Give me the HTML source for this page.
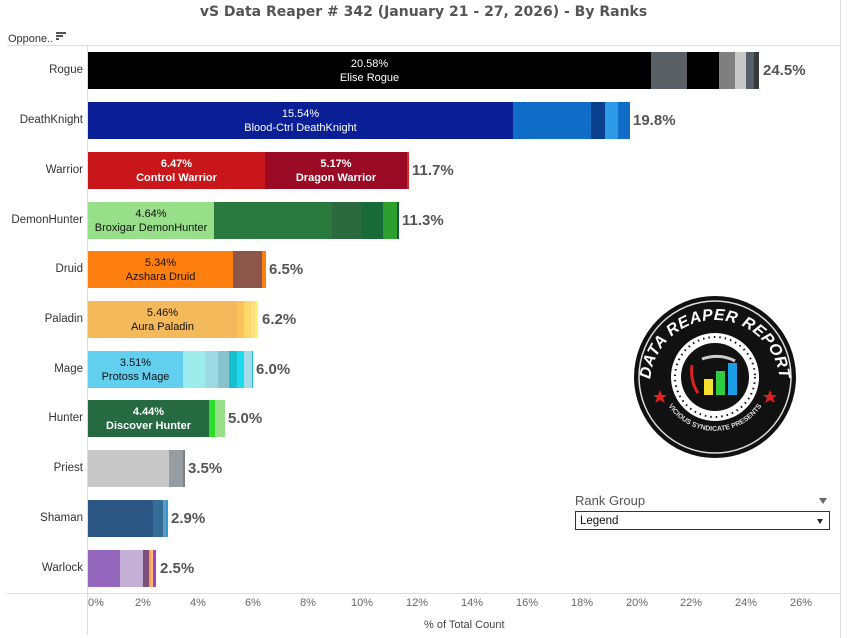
<!DOCTYPE html>
<html><head><meta charset="utf-8"><style>
body{margin:0;width:847px;height:638px;background:#fff;position:relative;font-family:"Liberation Sans",Arial,sans-serif;overflow:hidden}
.a{position:absolute}
.cat{position:absolute;right:764px;font-size:11.5px;color:#333;text-align:right}
.bar{position:absolute;height:37px;display:flex}
.bar div{height:100%;position:relative}
.lab{position:absolute;left:0;right:0;top:5px;text-align:center;font-size:11px;line-height:14px}
.val{position:absolute;font-size:15px;font-weight:bold;color:#555}
.tick{position:absolute;top:597px;font-size:11px;color:#666;width:40px;text-align:center}
</style></head><body>
<div class="a" style="left:0;width:847px;top:4px;text-align:center;font-size:14px;font-weight:bold;color:#555;font-family:'DejaVu Sans',sans-serif">vS Data Reaper # 342 (January 21 - 27, 2026) - By Ranks</div>
<div class="a" style="left:8px;top:33px;font-size:11px;color:#333">Oppone..</div>
<div class="a" style="left:56px;top:32px;width:10px;height:2px;background:#555"></div>
<div class="a" style="left:56px;top:35px;width:7px;height:2px;background:#555"></div>
<div class="a" style="left:56px;top:38px;width:3px;height:2px;background:#555"></div>
<div class="a" style="left:7px;top:45px;width:834px;height:1px;background:#ddd"></div>
<div class="a" style="left:87px;top:45px;width:1px;height:590px;background:#ddd"></div>
<div class="a" style="left:840px;top:0;width:1px;height:638px;background:#ddd"></div>
<div class="a" style="left:7px;top:593px;width:834px;height:1px;background:#ddd"></div>

<div class="cat" style="top:64px">Rogue</div>
<div class="cat" style="top:114px">DeathKnight</div>
<div class="cat" style="top:164px">Warrior</div>
<div class="cat" style="top:214px">DemonHunter</div>
<div class="cat" style="top:263px">Druid</div>
<div class="cat" style="top:313px">Paladin</div>
<div class="cat" style="top:363px">Mage</div>
<div class="cat" style="top:412px">Hunter</div>
<div class="cat" style="top:462px">Priest</div>
<div class="cat" style="top:512px">Shaman</div>
<div class="cat" style="top:562px">Warlock</div>

<div class="bar" style="left:88px;top:52px"><div style="width:563px;background:#000;color:#fff"><div class="lab">20.58%<br>Elise Rogue</div></div><div style="width:36px;background:#5a5f66"></div><div style="width:32px;background:#000"></div><div style="width:16px;background:#7f7f7f"></div><div style="width:11px;background:#c8c8c8"></div><div style="width:8px;background:#56606a"></div><div style="width:5px;background:#3a3a3a"></div></div>
<div class="val" style="left:763px;top:62px">24.5%</div>

<div class="bar" style="left:88px;top:102px"><div style="width:425px;background:#0a1e96;color:#fff"><div class="lab">15.54%<br>Blood-Ctrl DeathKnight</div></div><div style="width:78px;background:#0f6dc8"></div><div style="width:14px;background:#0a3f8e"></div><div style="width:13px;background:#2d9ae8"></div><div style="width:12px;background:#0f6dc8"></div></div>
<div class="val" style="left:633px;top:112px">19.8%</div>

<div class="bar" style="left:88px;top:152px"><div style="width:177px;background:#c8161b;color:#fff"><div class="lab" style="font-weight:bold">6.47%<br>Control Warrior</div></div><div style="width:142px;background:#9a0a24;color:#fff"><div class="lab" style="font-weight:bold">5.17%<br>Dragon Warrior</div></div><div style="width:2px;background:#d42a2a"></div></div>
<div class="val" style="left:412px;top:162px">11.7%</div>

<div class="bar" style="left:88px;top:202px"><div style="width:126px;background:#98df8a;color:#111"><div class="lab">4.64%<br>Broxigar DemonHunter</div></div><div style="width:118px;background:#2a7a40"></div><div style="width:29px;background:#2a6a3e"></div><div style="width:22px;background:#186b38"></div><div style="width:14px;background:#2ca02c"></div><div style="width:2px;background:#1a5a30"></div></div>
<div class="val" style="left:402px;top:212px">11.3%</div>

<div class="bar" style="left:88px;top:251px"><div style="width:145px;background:#ff7f0e;color:#111"><div class="lab">5.34%<br>Azshara Druid</div></div><div style="width:29px;background:#8c564b"></div><div style="width:4px;background:#ff7f0e"></div></div>
<div class="val" style="left:269px;top:261px">6.5%</div>

<div class="bar" style="left:88px;top:301px"><div style="width:149px;background:#f4b95a;color:#111"><div class="lab">5.46%<br>Aura Paladin</div></div><div style="width:7px;background:#f9c35a"></div><div style="width:7px;background:#fdd768"></div><div style="width:4px;background:#ffe080"></div><div style="width:3px;background:#ffef70"></div></div>
<div class="val" style="left:262px;top:311px">6.2%</div>

<div class="bar" style="left:88px;top:351px"><div style="width:95px;background:#62cfee;color:#111"><div class="lab">3.51%<br>Protoss Mage</div></div><div style="width:22px;background:#9cecec"></div><div style="width:13px;background:#a0d9e6"></div><div style="width:11px;background:#87c3cc"></div><div style="width:8px;background:#17becf"></div><div style="width:7px;background:#1bdbec"></div><div style="width:8px;background:#a6dce8"></div><div style="width:1px;background:#17becf"></div></div>
<div class="val" style="left:256px;top:361px">6.0%</div>

<div class="bar" style="left:88px;top:400px"><div style="width:121px;background:#256a41;color:#fff"><div class="lab" style="font-weight:bold">4.44%<br>Discover Hunter</div></div><div style="width:6px;background:#2bdd2b"></div><div style="width:10px;background:#98df8a"></div></div>
<div class="val" style="left:228px;top:410px">5.0%</div>

<div class="bar" style="left:88px;top:450px"><div style="width:81px;background:#c8c8c8"></div><div style="width:14px;background:#969c9f"></div><div style="width:2px;background:#7f7f7f"></div></div>
<div class="val" style="left:188px;top:460px">3.5%</div>

<div class="bar" style="left:88px;top:500px"><div style="width:65px;background:#2c5784"></div><div style="width:10px;background:#336e98"></div><div style="width:3px;background:#6a98b8"></div><div style="width:2px;background:#2a9ad8"></div></div>
<div class="val" style="left:171px;top:510px">2.9%</div>

<div class="bar" style="left:88px;top:550px"><div style="width:32px;background:#9467bd"></div><div style="width:23px;background:#c5b0d5"></div><div style="width:6px;background:#7b4f7a"></div><div style="width:2px;background:#ff9e4a"></div><div style="width:2px;background:#ffbb78"></div><div style="width:3px;background:#a040d0"></div></div>
<div class="val" style="left:160px;top:560px">2.5%</div>

<div class="tick" style="left:76px">0%</div>
<div class="tick" style="left:123px">2%</div>
<div class="tick" style="left:178px">4%</div>
<div class="tick" style="left:233px">6%</div>
<div class="tick" style="left:288px">8%</div>
<div class="tick" style="left:342px">10%</div>
<div class="tick" style="left:397px">12%</div>
<div class="tick" style="left:452px">14%</div>
<div class="tick" style="left:507px">16%</div>
<div class="tick" style="left:562px">18%</div>
<div class="tick" style="left:617px">20%</div>
<div class="tick" style="left:671px">22%</div>
<div class="tick" style="left:726px">24%</div>
<div class="tick" style="left:781px">26%</div>
<div class="a" style="left:424px;top:619px;font-size:11px;color:#444">% of Total Count</div>

<div class="a" style="left:575px;top:493px;font-size:13px;color:#555">Rank Group</div>
<div class="a" style="left:819px;top:498px;width:0;height:0;border-left:4px solid transparent;border-right:4px solid transparent;border-top:6px solid #666"></div>
<div class="a" style="left:575px;top:511px;width:253px;height:17px;border:1px solid #333;font-size:11.5px;color:#111;line-height:19px;box-sizing:content-box"><span style="margin-left:4px">Legend</span>
<div class="a" style="right:6px;top:7px;width:0;height:0;border-left:3.5px solid transparent;border-right:3.5px solid transparent;border-top:5px solid #222"></div></div>

<svg class="a" style="left:630px;top:293px" width="170" height="170" viewBox="0 0 170 170">
<defs><path id="arcT" d="M20,92 A65,65 0 0,1 150,92"/><path id="arcB" d="M32,100 A56,56 0 0,0 138,100"/></defs>
<circle cx="85" cy="84" r="81" fill="#111"/>
<circle cx="85" cy="84" r="76" fill="none" stroke="#ddd" stroke-width="1.5"/>
<circle cx="85" cy="84" r="44" fill="#fff"/>
<circle cx="85" cy="84" r="40" fill="none" stroke="#111" stroke-width="2" stroke-dasharray="1.5 4"/>
<circle cx="85" cy="84" r="34" fill="#111"/>
<text font-family="Liberation Sans,sans-serif" font-weight="bold" font-style="italic" font-size="16" fill="#fff" letter-spacing="0.5"><textPath href="#arcT" startOffset="50%" text-anchor="middle">DATA REAPER REPORT</textPath></text>
<text font-family="Liberation Sans,sans-serif" font-weight="bold" font-size="7" fill="#ddd"><textPath href="#arcB" startOffset="50%" text-anchor="middle">VICIOUS SYNDICATE PRESENTS</textPath></text>
<polygon points="30,97 32,102 37,102 33,105 35,110 30,107 25,110 27,105 23,102 28,102" fill="#e02020"/>
<polygon points="140,97 142,102 147,102 143,105 145,110 140,107 135,110 137,105 133,102 138,102" fill="#e02020"/>
<rect x="74" y="86" width="9" height="16" fill="#f7e02a"/>
<rect x="86" y="78" width="9" height="24" fill="#2ecc40"/>
<rect x="98" y="70" width="9" height="32" fill="#1a9ee8"/>
<path d="M62,72 Q60,88 68,100" stroke="#e02020" stroke-width="3" fill="none"/>
<path d="M72,66 Q90,60 105,68" stroke="#ccc" stroke-width="3" fill="none"/>
</svg>
</body></html>
